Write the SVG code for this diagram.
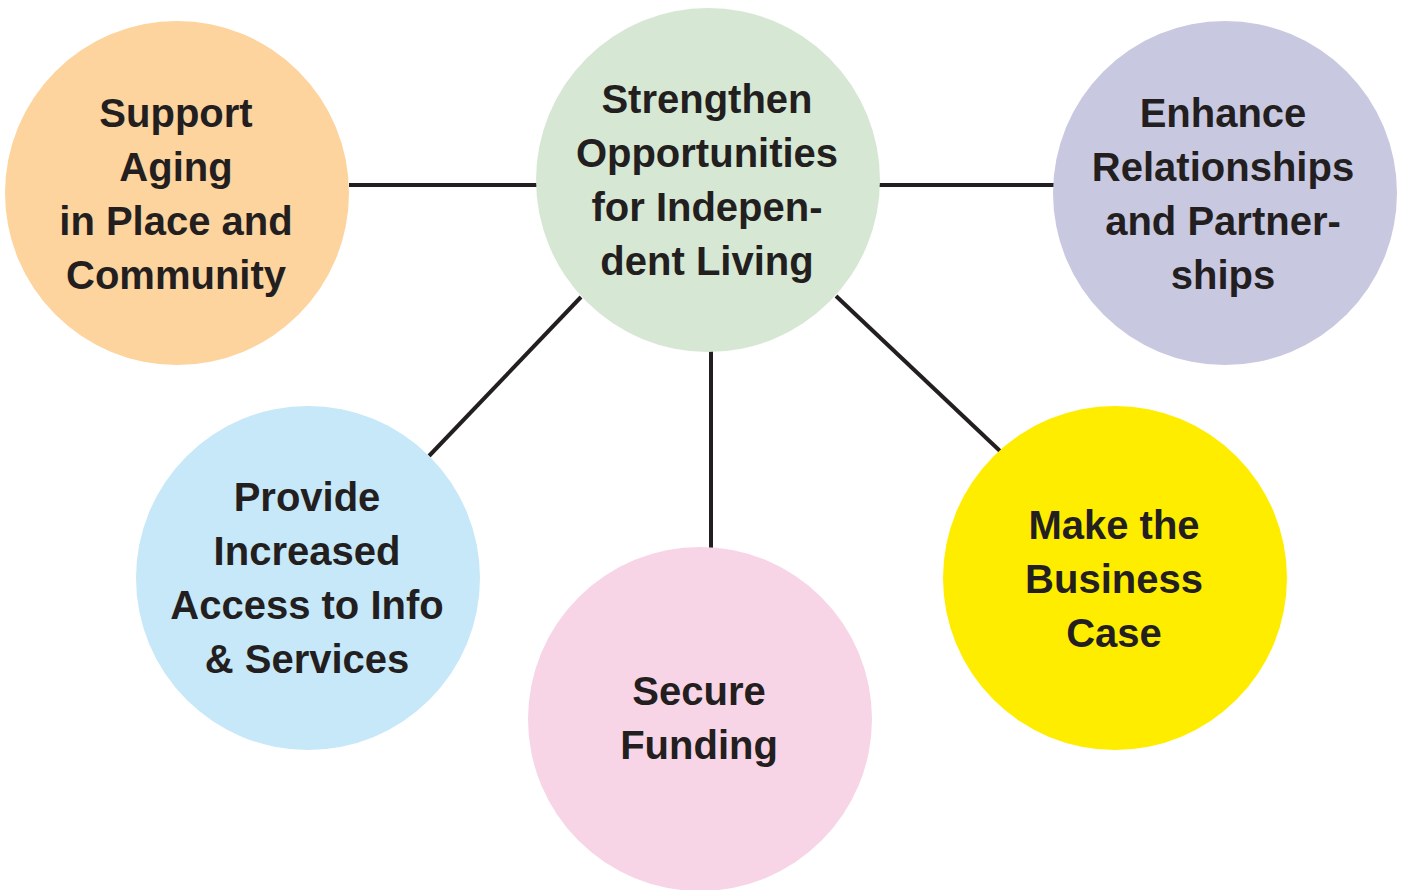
<svg xmlns="http://www.w3.org/2000/svg" width="1403" height="890" viewBox="0 0 1403 890">
<style>
.t{font-family:"Liberation Sans",Arial,sans-serif;font-weight:bold;font-size:40px;fill:#231F20;text-anchor:middle}
.c{stroke:#231F20;stroke-width:4;fill:none}
</style>
<rect width="1403" height="890" fill="#fff"/>
<g id="connectors">
<line class="c" x1="349" y1="185" x2="537" y2="185"/>
<line class="c" x1="879" y1="185" x2="1054" y2="185"/>
<line class="c" x1="581" y1="297" x2="429" y2="456"/>
<line class="c" x1="711" y1="351" x2="711" y2="548"/>
<line class="c" x1="836" y1="296" x2="1000" y2="451"/>
</g>
<g id="n-aging">
<circle cx="177" cy="193" r="172" fill="#FDD39E"/>
<text class="t" x="176" y="127">Support</text>
<text class="t" x="176" y="181">Aging</text>
<text class="t" x="176" y="235">in Place and</text>
<text class="t" x="176" y="289">Community</text>
</g>
<g id="n-center">
<circle cx="708" cy="180" r="172" fill="#D6E8D3"/>
<text class="t" x="707" y="113">Strengthen</text>
<text class="t" x="707" y="167">Opportunities</text>
<text class="t" x="707" y="221">for Indepen-</text>
<text class="t" x="707" y="275">dent Living</text>
</g>
<g id="n-enhance">
<circle cx="1225" cy="193" r="172" fill="#C9C8E1"/>
<text class="t" x="1223" y="127">Enhance</text>
<text class="t" x="1223" y="181">Relationships</text>
<text class="t" x="1223" y="235">and Partner-</text>
<text class="t" x="1223" y="289">ships</text>
</g>
<g id="n-provide">
<circle cx="308" cy="578" r="172" fill="#C7E8F8"/>
<text class="t" x="307" y="511">Provide</text>
<text class="t" x="307" y="565">Increased</text>
<text class="t" x="307" y="619">Access to Info</text>
<text class="t" x="307" y="673">&amp; Services</text>
</g>
<g id="n-secure">
<circle cx="700" cy="719" r="172" fill="#F8D5E6"/>
<text class="t" x="699" y="705">Secure</text>
<text class="t" x="699" y="759">Funding</text>
</g>
<g id="n-business">
<circle cx="1115" cy="578" r="172" fill="#FFED00"/>
<text class="t" x="1114" y="539">Make the</text>
<text class="t" x="1114" y="593">Business</text>
<text class="t" x="1114" y="647">Case</text>
</g>
</svg>
